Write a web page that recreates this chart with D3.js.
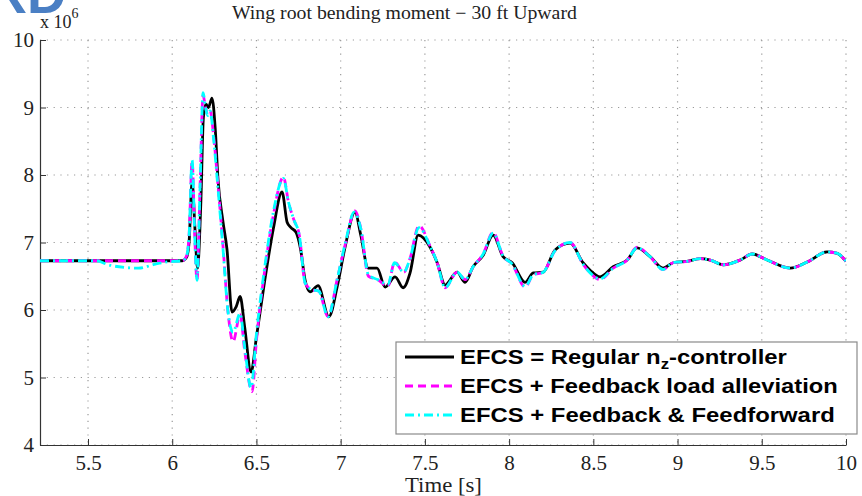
<!DOCTYPE html>
<html>
<head>
<meta charset="utf-8">
<script src="https://cdn.jsdelivr.net/npm/d3@7"></script>
<style>
  html, body { margin: 0; padding: 0; background: #fff; }
  svg { display: block; }
</style>
</head>
<body>
<svg id="chart" width="862" height="496"></svg>
<script>
// Wing root bending moment (x 10^6) for a 30 ft upward gust, three controller variants.

const xTicks = [5.5, 6, 6.5, 7, 7.5, 8, 8.5, 9, 9.5, 10];
const yTicks = [4, 5, 6, 7, 8, 9, 10];

const seriesNames = [
  "EFCS = Regular n",
  "EFCS + Feedback load alleviation",
  "EFCS + Feedback & Feedforward"
];

// Regular n_z controller
const timeRegular = [5.215, 6.06, 6.085, 6.1, 6.118, 6.135, 6.15, 6.17, 6.185, 6.2, 6.215, 6.236, 6.255, 6.272, 6.3, 6.325, 6.355, 6.38, 6.403, 6.43, 6.468, 6.5, 6.55, 6.6, 6.652, 6.682, 6.705, 6.735, 6.762, 6.789, 6.818, 6.866, 6.93, 6.979, 7.026, 7.085, 7.12, 7.163, 7.216, 7.264, 7.323, 7.371, 7.412, 7.46, 7.531, 7.573, 7.62, 7.691, 7.739, 7.786, 7.846, 7.905, 7.964, 8.018, 8.095, 8.143, 8.202, 8.273, 8.362, 8.439, 8.481, 8.54, 8.618, 8.701, 8.76, 8.837, 8.914, 8.974, 9.057, 9.134, 9.194, 9.271, 9.372, 9.443, 9.532, 9.669, 9.77, 9.888, 9.948, 10.0];
const valueRegular = [6.73, 6.73, 6.78, 7.0, 7.9, 7.2, 6.62, 7.6, 8.85, 9.05, 9.0, 9.14, 8.7, 7.93, 7.33, 6.9, 5.97, 6.05, 6.2, 5.75, 5.08, 5.6, 6.45, 7.2, 7.75, 7.3, 7.22, 7.15, 6.9, 6.44, 6.27, 6.36, 5.9, 6.34, 6.93, 7.45, 7.1, 6.62, 6.62, 6.34, 6.49, 6.33, 6.55, 7.11, 6.93, 6.7, 6.37, 6.56, 6.41, 6.64, 6.81, 7.11, 6.79, 6.70, 6.41, 6.55, 6.56, 6.89, 6.99, 6.70, 6.59, 6.49, 6.64, 6.74, 6.92, 6.79, 6.62, 6.70, 6.72, 6.76, 6.74, 6.67, 6.74, 6.83, 6.74, 6.62, 6.71, 6.86, 6.84, 6.72];

// Feedback load alleviation
const timeFeedback = [5.215, 6.06, 6.085, 6.1, 6.118, 6.135, 6.147, 6.165, 6.183, 6.198, 6.21, 6.225, 6.245, 6.27, 6.3, 6.33, 6.361, 6.403, 6.43, 6.474, 6.5, 6.55, 6.6, 6.66, 6.69, 6.72, 6.755, 6.789, 6.83, 6.87, 6.925, 6.979, 7.03, 7.085, 7.12, 7.165, 7.22, 7.28, 7.32, 7.375, 7.41, 7.465, 7.53, 7.573, 7.62, 7.691, 7.739, 7.786, 7.846, 7.905, 7.964, 8.018, 8.095, 8.143, 8.202, 8.273, 8.362, 8.439, 8.481, 8.54, 8.618, 8.701, 8.76, 8.837, 8.914, 8.974, 9.057, 9.134, 9.194, 9.271, 9.372, 9.443, 9.532, 9.669, 9.77, 9.888, 9.948, 10.0];
const valueFeedback = [6.73, 6.73, 6.8, 7.1, 8.2, 7.0, 6.44, 7.8, 9.18, 9.0, 8.9, 8.95, 8.6, 7.9, 7.0, 6.0, 5.53, 5.93, 5.4, 4.79, 5.55, 6.6, 7.4, 7.97, 7.6, 7.35, 7.1, 6.4, 6.3, 6.28, 5.9, 6.45, 7.0, 7.47, 7.2, 6.5, 6.45, 6.35, 6.71, 6.56, 6.75, 7.25, 6.95, 6.7, 6.33, 6.56, 6.45, 6.64, 6.83, 7.15, 6.8, 6.68, 6.34, 6.52, 6.56, 6.88, 7.0, 6.68, 6.55, 6.45, 6.62, 6.74, 6.93, 6.79, 6.6, 6.7, 6.72, 6.76, 6.74, 6.67, 6.74, 6.83, 6.74, 6.62, 6.71, 6.86, 6.84, 6.72];

// Feedback & feedforward
const timeFeedforward = [5.215, 5.55, 5.62, 5.72, 5.8, 5.9, 5.96, 6.06, 6.085, 6.1, 6.118, 6.135, 6.147, 6.165, 6.183, 6.198, 6.21, 6.225, 6.245, 6.27, 6.3, 6.33, 6.361, 6.403, 6.43, 6.468, 6.5, 6.55, 6.6, 6.66, 6.69, 6.72, 6.755, 6.789, 6.83, 6.87, 6.925, 6.979, 7.03, 7.08, 7.12, 7.165, 7.22, 7.28, 7.32, 7.375, 7.41, 7.465, 7.53, 7.573, 7.62, 7.691, 7.739, 7.786, 7.846, 7.905, 7.964, 8.018, 8.095, 8.143, 8.202, 8.273, 8.362, 8.439, 8.481, 8.54, 8.618, 8.701, 8.76, 8.837, 8.914, 8.974, 9.057, 9.134, 9.194, 9.271, 9.372, 9.443, 9.532, 9.669, 9.77, 9.888, 9.948, 10.0];
const valueFeedforward = [6.73, 6.73, 6.67, 6.63, 6.62, 6.68, 6.71, 6.73, 6.8, 7.1, 8.22, 7.0, 6.44, 7.8, 9.22, 9.0, 8.88, 8.95, 8.55, 7.85, 6.95, 6.0, 5.67, 5.95, 5.45, 4.85, 5.65, 6.65, 7.45, 7.95, 7.6, 7.35, 7.1, 6.4, 6.3, 6.28, 5.9, 6.45, 7.02, 7.45, 7.2, 6.52, 6.45, 6.38, 6.7, 6.56, 6.75, 7.22, 6.95, 6.7, 6.33, 6.56, 6.45, 6.64, 6.83, 7.14, 6.8, 6.68, 6.35, 6.52, 6.56, 6.88, 7.0, 6.68, 6.55, 6.46, 6.62, 6.74, 6.92, 6.79, 6.6, 6.7, 6.72, 6.76, 6.74, 6.67, 6.74, 6.83, 6.74, 6.62, 6.71, 6.86, 6.84, 6.72];

const svg = d3.select("#chart");
const plot = { left: 40, right: 846, top: 40, bottom: 445 };

const x = d3.scaleLinear().domain([5.215, 10]).range([plot.left, plot.right]);
const y = d3.scaleLinear().domain([4, 10]).range([plot.bottom, plot.top]);

const serif = "'Liberation Serif', 'Times New Roman', serif";
const sans = "'Liberation Sans', Arial, sans-serif";

// stretch a start-anchored text horizontally so it spans `target` pixels
function fitWidth(sel, x0, target) {
  const w = sel.node().getComputedTextLength();
  const k = target / w;
  sel.attr("transform", `translate(${x0},0) scale(${k},1) translate(${-x0},0)`);
}

// header fragment in the top-left corner
svg.append("text")
  .attr("x", -12).attr("y", 13)
  .attr("font-family", sans).attr("font-weight", "bold")
  .attr("font-size", 54).attr("fill", "#4a7fc4")
  .text("RD");

// dotted grid
const grid = svg.append("g").attr("stroke", "#9a9a9a").attr("stroke-width", 1.2)
  .attr("stroke-dasharray", "1.2,5.6");
grid.selectAll(".gx").data(xTicks).join("line")
  .attr("x1", d => x(d)).attr("x2", d => x(d))
  .attr("y1", plot.top).attr("y2", plot.bottom);
grid.selectAll(".gy").data(yTicks).join("line")
  .attr("x1", plot.left).attr("x2", plot.right)
  .attr("y1", d => y(d)).attr("y2", d => y(d));

// axes with inward ticks
const xAxis = d3.axisBottom(x).tickValues(xTicks).tickSizeInner(-6).tickSizeOuter(0)
  .tickPadding(10).tickFormat(d3.format("~g"));
const yAxis = d3.axisLeft(y).tickValues(yTicks).tickSizeInner(-6).tickSizeOuter(0)
  .tickPadding(6).tickFormat(d3.format("~g"));

const gx = svg.append("g").attr("transform", `translate(0,${plot.bottom})`).call(xAxis);
const gy = svg.append("g").attr("transform", `translate(${plot.left},0)`).call(yAxis);
[gx, gy].forEach(g => {
  g.select(".domain").attr("stroke", "#333").attr("stroke-width", 1.2);
  g.selectAll(".tick line").attr("stroke", "#333").attr("stroke-width", 1);
  g.selectAll(".tick text").attr("font-family", serif).attr("font-size", 21).attr("fill", "#222");
});

// exponent label
const expo = svg.append("text").attr("x", 40).attr("y", 28)
  .attr("font-family", serif).attr("font-size", 18).attr("fill", "#222");
expo.append("tspan").text("x 10");
expo.append("tspan").attr("dy", -10).attr("font-size", 14).text("6");

// title and x label
const title = svg.append("text").attr("x", 232).attr("y", 19)
  .attr("font-family", serif).attr("font-size", 18).attr("fill", "#222")
  .text("Wing root bending moment  \u2212  30 ft  Upward");
fitWidth(title, 232, 345);
const xLabel = svg.append("text").attr("x", 405).attr("y", 492)
  .attr("font-family", serif).attr("font-size", 20).attr("fill", "#222")
  .text("Time [s]");
fitWidth(xLabel, 405, 77);

// curves
svg.append("clipPath").attr("id", "clip").append("rect")
  .attr("x", plot.left).attr("y", plot.top)
  .attr("width", plot.right - plot.left).attr("height", plot.bottom - plot.top);

const line = d3.line().x(d => x(d[0])).y(d => y(d[1])).curve(d3.curveMonotoneX);
const styles = [
  { color: "#000000", dash: null, width: 2.8 },
  { color: "#ff00ff", dash: "8,5", width: 2.8 },
  { color: "#00ffff", dash: "9,4,2,4", width: 2.8 }
];
const series = [
  d3.zip(timeRegular, valueRegular),
  d3.zip(timeFeedback, valueFeedback),
  d3.zip(timeFeedforward, valueFeedforward)
];
const curves = svg.append("g").attr("clip-path", "url(#clip)");
series.forEach((pts, i) => {
  curves.append("path").attr("d", line(pts))
    .attr("fill", "none").attr("stroke", styles[i].color)
    .attr("stroke-width", styles[i].width)
    .attr("stroke-dasharray", styles[i].dash)
    .attr("stroke-linejoin", "round");
});

// legend
const legendWidths = [327, 378, 375];
const lg = svg.append("g").attr("transform", "translate(396,342)");
lg.append("rect").attr("width", 461).attr("height", 92)
  .attr("fill", "#fff").attr("stroke", "#8a8a8a").attr("stroke-width", 1.2);
seriesNames.forEach((name, i) => {
  const cy = 15 + i * 29;
  lg.append("line").attr("x1", 9).attr("x2", 58).attr("y1", cy).attr("y2", cy)
    .attr("stroke", styles[i].color).attr("stroke-width", 3)
    .attr("stroke-dasharray", styles[i].dash);
  const t = lg.append("text").attr("x", 64).attr("y", cy + 7)
    .attr("font-family", sans).attr("font-weight", "bold")
    .attr("font-size", 20).attr("fill", "#000");
  t.append("tspan").text(name);
  if (i === 0) {
    t.append("tspan").attr("dy", 5).attr("font-size", 14).text("z");
    t.append("tspan").attr("dy", -5).text("-controller");
  }
  fitWidth(t, 64, legendWidths[i]);
});
</script>
</body>
</html>
